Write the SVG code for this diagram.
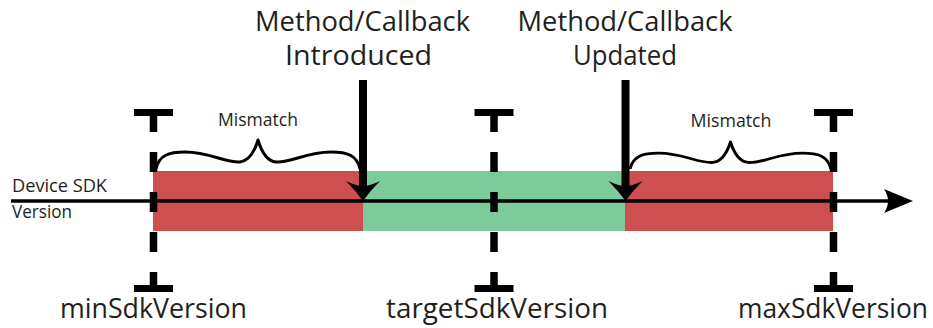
<svg xmlns="http://www.w3.org/2000/svg" width="933" height="328" viewBox="0 0 933 328">
  <style>
    .lbl { font-family: "Open Sans", "Liberation Sans", sans-serif; fill: #231f20; }
    .big { font-size: 27px; }
    .small { font-size: 17.5px; }
    .axis-lbl { font-size: 18px; }
    .bottom { font-size: 26.5px; }
    .dash { stroke: #000; stroke-width: 7.5; stroke-dasharray: 20 20; fill: none; }
    .cap { fill: #000; }
    .brace { fill: none; stroke: #000; stroke-width: 3; stroke-linejoin: round; }
    .red { fill: #ce4f4f; }
    .green { fill: #7dcb9a; }
  </style>
  <defs>
    <!-- curly brace spanning 204px, tip at the centre -->
    <path id="brace" d="M0,29 C3,15 13,12 29,12 C54,12 69,23 84,22 C94,21 99,10 102,0 C105,10 110,21 120,22 C135,23 150,12 175,12 C191,12 201,15 204,29"/>
    <!-- T shaped version marker, dashed stem -->
    <g id="marker">
      <rect class="cap" x="-19.5" y="109" width="39" height="7"/>
      <line class="dash" x1="0" y1="112" x2="0" y2="291"/>
      <rect class="cap" x="-19.5" y="285" width="39" height="7"/>
    </g>
  </defs>

  <!-- version range bars -->
  <g id="bars">
    <rect id="bar-low" class="red" x="153" y="171" width="210" height="60"/>
    <rect id="bar-ok" class="green" x="363" y="171" width="262" height="60"/>
    <rect id="bar-high" class="red" x="625" y="171" width="208" height="60"/>
  </g>

  <!-- SDK version markers -->
  <g id="min-sdk">
    <use href="#marker" x="153.5"/>
    <text class="lbl bottom" x="153.5" y="318" text-anchor="middle" textLength="187" lengthAdjust="spacingAndGlyphs">minSdkVersion</text>
  </g>
  <g id="target-sdk">
    <use href="#marker" x="494"/>
    <text class="lbl bottom" x="497" y="318" text-anchor="middle" textLength="222" lengthAdjust="spacingAndGlyphs">targetSdkVersion</text>
  </g>
  <g id="max-sdk">
    <use href="#marker" x="833.5"/>
    <text class="lbl bottom" x="833" y="318" text-anchor="middle" textLength="190" lengthAdjust="spacingAndGlyphs">maxSdkVersion</text>
  </g>

  <!-- mismatch ranges -->
  <g id="mismatch-low">
    <use href="#brace" class="brace" x="156" y="140"/>
    <text class="lbl small" x="258" y="126" text-anchor="middle" textLength="80" lengthAdjust="spacingAndGlyphs">Mismatch</text>
  </g>
  <g id="mismatch-high">
    <use href="#brace" class="brace" transform="translate(630,142) scale(0.985,0.93)"/>
    <text class="lbl small" x="731" y="127" text-anchor="middle" textLength="81" lengthAdjust="spacingAndGlyphs">Mismatch</text>
  </g>

  <!-- axis label -->
  <g id="device-sdk">
    <text class="lbl axis-lbl" x="12" y="192" textLength="95" lengthAdjust="spacingAndGlyphs">Device SDK</text>
    <text class="lbl axis-lbl" x="12" y="218" textLength="60" lengthAdjust="spacingAndGlyphs">Version</text>
  </g>

  <!-- API event labels -->
  <g id="introduced">
    <text class="lbl big" x="362.5" y="31" text-anchor="middle" textLength="215" lengthAdjust="spacingAndGlyphs">Method/Callback</text>
    <text class="lbl big" x="358.5" y="65" text-anchor="middle" textLength="147" lengthAdjust="spacingAndGlyphs">Introduced</text>
  </g>
  <g id="updated">
    <text class="lbl big" x="625" y="31" text-anchor="middle" textLength="215" lengthAdjust="spacingAndGlyphs">Method/Callback</text>
    <text class="lbl big" x="625" y="65" text-anchor="middle" textLength="104" lengthAdjust="spacingAndGlyphs">Updated</text>
  </g>

  <!-- connectors: axis and event arrows -->
  <g id="connectors">
    <line x1="11" y1="201" x2="892" y2="201" stroke="#000" stroke-width="3.5"/>
    <path d="M913,201 L884,189 Q892,201 884,213 Z" fill="#000"/>

    <rect x="359" y="80" width="8" height="106" fill="#000"/>
    <path d="M363,201 Q356,191 346,181 Q356,186 363,186 Q370,186 380,181 Q370,191 363,201 Z" fill="#000"/>

    <rect x="621.5" y="80" width="8" height="106" fill="#000"/>
    <path d="M625.5,201 Q618.5,191 608.5,181 Q618.5,186 625.5,186 Q632.5,186 642.5,181 Q632.5,191 625.5,201 Z" fill="#000"/>
  </g>
</svg>
